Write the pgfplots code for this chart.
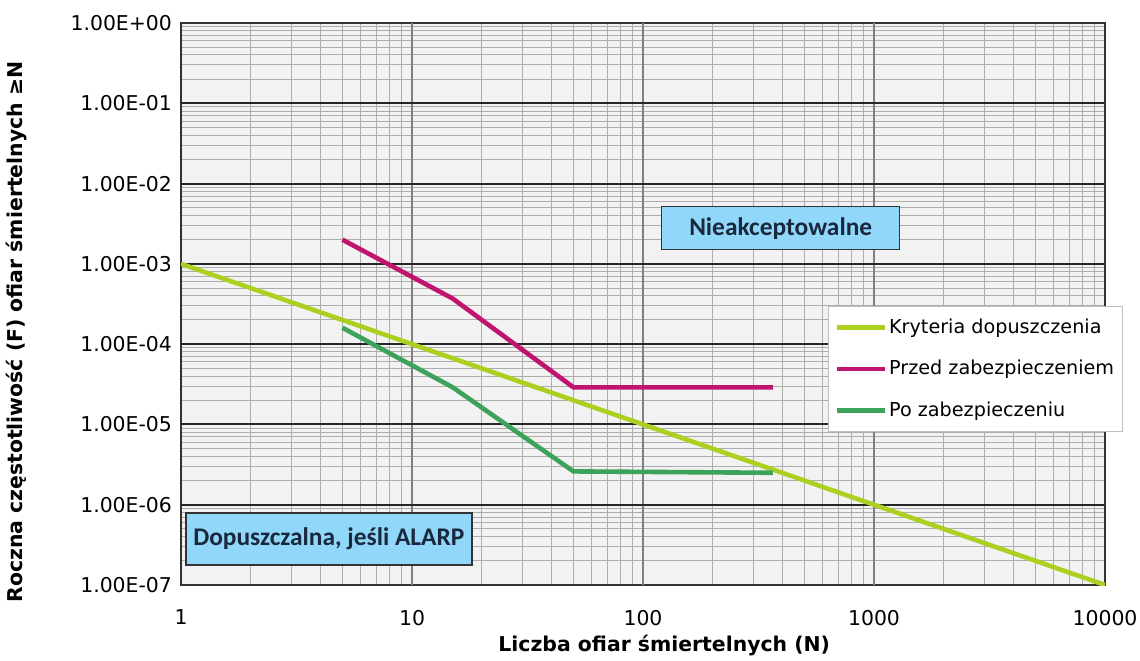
\documentclass[border=0pt]{standalone}
\usepackage{fontspec}
\setmainfont{DejaVu Sans}
\newfontfamily\boxfont{Carlito}
\usepackage{pgfplots}
\pgfplotsset{compat=1.18}

\definecolor{plotbg}{RGB}{242,242,242}
\definecolor{kryt}{RGB}{172,208,32}
\definecolor{przed}{RGB}{192,20,110}
\definecolor{po}{RGB}{61,163,90}
\definecolor{boxblue}{RGB}{145,215,250}
\definecolor{boxtext}{RGB}{25,40,60}

\begin{document}
\begin{tikzpicture}
% canvas 1140x660 px at 0.5pt per px, plot area from (181,23) to (1105,585)
\useasboundingbox (-90.5pt,-37.5pt) rectangle (479.5pt,292.5pt);
\begin{loglogaxis}[
  width=462pt, height=281pt, scale only axis,
  xmin=1, xmax=10000, ymin=1e-7, ymax=1,
  axis background/.style={fill=plotbg},
  xtick={1,10,100,1000,10000}, xticklabels={1,10,100,1000,10000},
  ytick={1e-7,1e-6,1e-5,1e-4,1e-3,1e-2,1e-1,1},
  yticklabels={1.00E-07,1.00E-06,1.00E-05,1.00E-04,1.00E-03,1.00E-02,1.00E-01,1.00E+00},
  major tick length=0pt, minor tick length=0pt,
  xminorgrids, yminorgrids,
  minor grid style={black!32, line width=0.5pt},
  extra x ticks={10,100,1000}, extra x tick labels={},
  extra x tick style={grid=major, major grid style={black!50, line width=0.8pt}},
  extra y ticks={1e-6,1e-5,1e-4,1e-3,1e-2,1e-1}, extra y tick labels={},
  extra y tick style={grid=major, major grid style={black!85, line width=1pt}},
  axis line style={black!80, line width=0.8pt},
  tick label style={font=\fontsize{10.2}{12}\selectfont},
  xticklabel style={yshift=-9pt},
  yticklabel style={xshift=-1pt},
  xlabel={\bfseries Liczba ofiar śmiertelnych (N)},
  ylabel={\bfseries Roczna częstotliwość (F) ofiar śmiertelnych ≥N},
  label style={font=\fontsize{10.2}{12}\selectfont},
  xlabel style={at={(axis description cs:0.523,-0.108)}, anchor=center},
  ylabel style={at={(axis description cs:-0.178,0.45)}, anchor=center},
  legend style={at={(rel axis cs:1.019,0.496)}, anchor=north east,
    draw=black!25, fill=white, font=\fontsize{9.6}{11}\selectfont,
    inner xsep=3pt, inner ysep=4pt, row sep=8pt,
    nodes={inner xsep=1pt},
    /tikz/every even column/.append style={column sep=0pt}},
  legend cell align=left,
  legend image code/.code={\draw[#1] (0pt,0pt) -- (24pt,0pt);},
  every axis plot/.append style={line width=2.3pt},
]
\addplot[kryt] coordinates {(1,1e-3) (10000,1e-7)};
\addlegendentry{Kryteria dopuszczenia}
\addplot[przed] coordinates {(5,2e-3) (15,3.7e-4) (50,2.9e-5) (365,2.9e-5)};
\addlegendentry{Przed zabezpieczeniem}
\addplot[po] coordinates {(5,1.6e-4) (15,2.9e-5) (50,2.6e-6) (365,2.5e-6)};
\addlegendentry{Po zabezpieczeniu}

\node[draw=black!80, line width=0.8pt, fill=boxblue, text=boxtext,
  minimum width=119pt, minimum height=21.5pt, inner sep=0pt,
  font=\boxfont\bfseries\fontsize{12.7}{14}\selectfont]
  at (rel axis cs:0.649,0.635) {Nieakceptowalne};
\node[draw=black!80, line width=0.8pt, fill=boxblue, text=boxtext,
  minimum width=143pt, minimum height=26pt, inner sep=0pt,
  font=\boxfont\bfseries\fontsize{12.7}{14}\selectfont]
  at (rel axis cs:0.16,0.082) {Dopuszczalna, jeśli ALARP};
\end{loglogaxis}
\end{tikzpicture}
\end{document}
